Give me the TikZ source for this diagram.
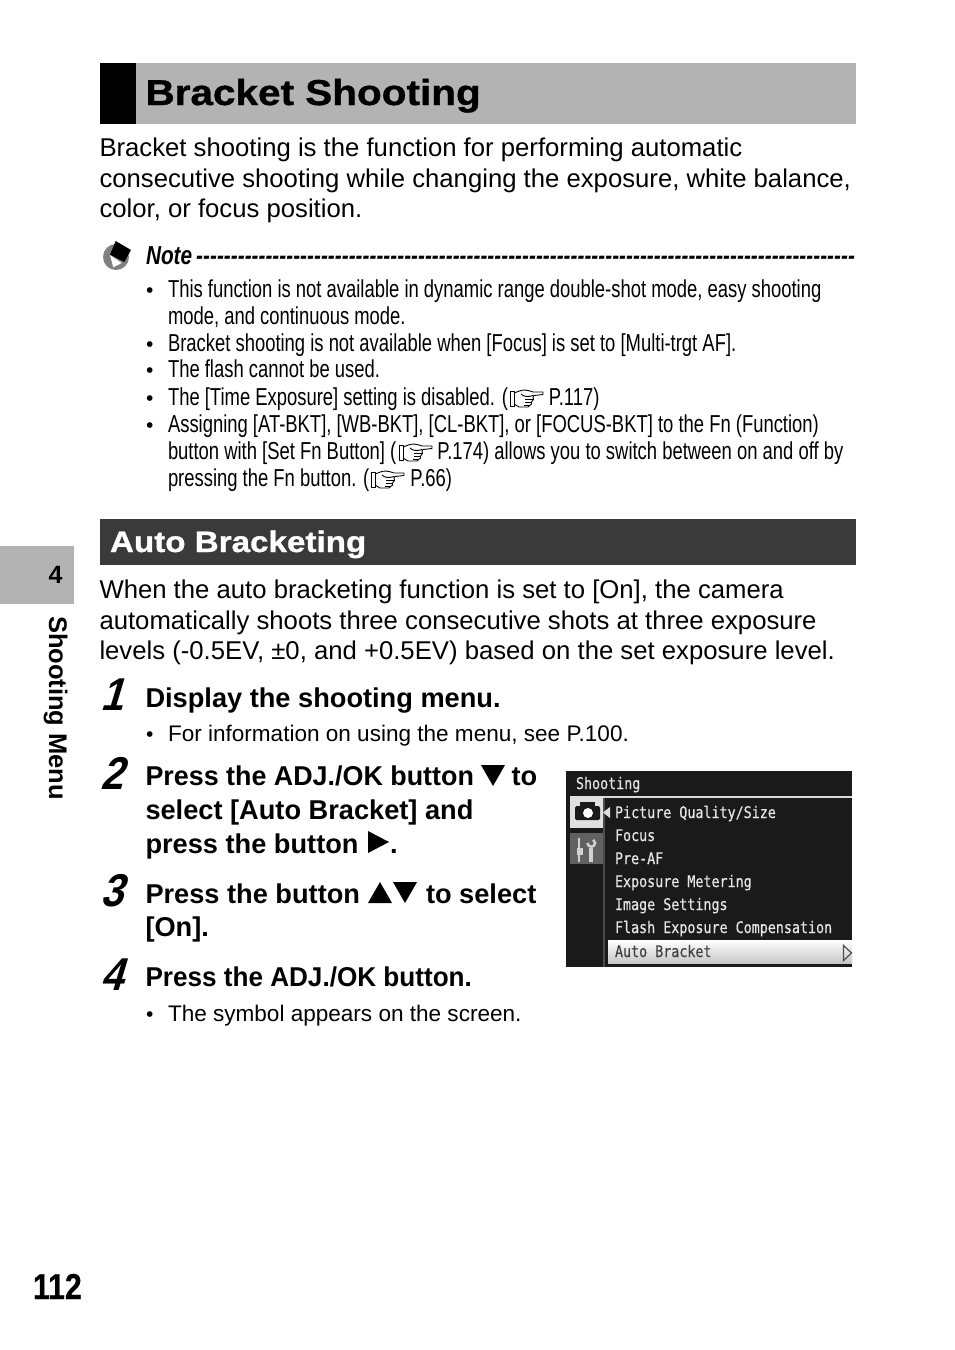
\documentclass[tikz,border=0pt]{standalone}
\usepackage{fontspec}
\setmainfont{Liberation Sans}
\newfontfamily\titlefont[FakeStretch=1.125,FakeBold=1]{Liberation Sans Bold}
\newfontfamily\notefont[FakeStretch=0.752]{Liberation Sans}
\newfontfamily\noteboldfont[FakeStretch=0.8]{Liberation Sans Bold Italic}
\newfontfamily\numfont[FakeStretch=0.84,FakeBold=0.6]{Liberation Sans Bold}
\newfontfamily\stepfont[FakeStretch=0.88,FakeSlant=0.3]{Liberation Sans Bold}
\newfontfamily\lcdfont[FakeStretch=0.835,FakeBold=0.4]{DejaVu Sans Mono}
\usepackage{xcolor}
\definecolor{bandgray}{HTML}{B3B3B3}
\definecolor{banddark}{HTML}{3A3A3A}
\definecolor{lcdblack}{HTML}{1A1A1A}
\definecolor{lcdtext}{HTML}{E6E6E6}
\newcommand{\tridn}[2]{
\fill (#1,#2)--(#1+24,#2)--(#1+12,#2+21)--cycle; }
\newcommand{\triup}[2]{
\fill (#1,#2+21)--(#1+24,#2+21)--(#1+12,#2)--cycle; }
\newcommand{\trirt}[2]{
\fill (#1,#2)--(#1+21,#2+11)--(#1,#2+22)--cycle; }
\newcommand{\handsign}[2]{
\begin{scope}[shift={(#1,#2)}, line width=0.9, line join=round]
\draw (0,1)--(4,1)--(4,16)--(0,16)--cycle;
\draw (4,3) .. controls (8,2) and (10,0) .. (15,0)--(20,1)--(23,2)--(33,2)--(33,4.5)--(24,5.5)--(23,7)--(23.5,9.5)--(21.5,12)--(21.5,14)--(18,17)--(9,17)--(4,14);
\draw (11,4) .. controls (14,7) and (18,7) .. (23,5.5);
\draw (15,9.5)--(23,9.5);
\draw (15,12.5)--(21.5,12.5);
\draw (14,15)--(19,15);
\end{scope}
}
\tikzset{
  lineof/.style={anchor=base west, inner sep=0pt, outer sep=0pt},
  bodyline/.style={lineof, font=\fontsize{25.7}{25.7}\selectfont},
  noteline/.style={lineof, font=\notefont\fontsize{24.5}{24.5}\selectfont},
  notedot/.style={lineof, font=\fontsize{21}{21}\selectfont},
  stepline/.style={lineof, font=\bfseries\fontsize{27.2}{27.2}\selectfont},
  subline/.style={lineof, font=\fontsize{22.55}{22.55}\selectfont},
  stepnum/.style={lineof, font=\stepfont\fontsize{46}{46}\selectfont},
  lcdline/.style={lineof, text=lcdtext, font=\lcdfont\fontsize{16}{16}\selectfont},
  iconline/.style={black!18!white},
}
\begin{document}
\begin{tikzpicture}[x=1pt,y=-1pt]
\useasboundingbox (0,0) rectangle (954,1350);

% title band
\fill[bandgray] (100,63) rectangle (856,124);
\fill[black] (100,63) rectangle (136,124);
\node[lineof, font=\titlefont\fontsize{36}{36}\selectfont] (title) at (145.5,105) {Bracket Shooting};

\node[bodyline] (introa) at (99.5,156) {Bracket shooting is the function for performing automatic};
\node[bodyline] (introb) at (99.5,187) {consecutive shooting while changing the exposure, white balance,};
\node[bodyline] (introc) at (99.5,217) {color, or focus position.};

% note icon
\fill[black!50!white] (116,257) circle (13);
\fill[black] (115.7,241)--(131,250)--(124.3,262)--(110,254.7)--cycle;
\fill[white] (110,255)--(121.7,263)--(113.3,267.3)--cycle;

\node[lineof, font=\noteboldfont\fontsize{26}{26}\selectfont] (note) at (146,264)
  {\hbox to 709pt{Note\hspace{4pt}\xleaders\hbox{-}\hfill}};

\foreach \y/\nm in {297/a,351/b,377/c,405/d,432/e}
  \node[notedot] (dot\nm) at (146,\y) {•};

\node[noteline] (notea) at (168,297) {This function is not available in dynamic range double-shot mode, easy shooting};
\node[noteline] (noteb) at (168,324) {mode, and continuous mode.};
\node[noteline] (notec) at (168,351) {Bracket shooting is not available when [Focus] is set to [Multi-trgt AF].};
\node[noteline] (noted) at (168,377) {The flash cannot be used.};
\node[noteline] (notee) at (168,405) {The [Time Exposure] setting is disabled. (\hspace{41pt}P.117)};
\node[noteline] (notef) at (168,432) {Assigning [AT-BKT], [WB-BKT], [CL-BKT], or [FOCUS-BKT] to the Fn (Function)};
\node[noteline] (noteg) at (168,459) {button with [Set Fn Button] (\hspace{41pt}P.174) allows you to switch between on and off by};
\node[noteline] (noteh) at (168,486) {pressing the Fn button. (\hspace{41pt}P.66)};
\handsign{510}{390}
\handsign{399}{444}
\handsign{371}{471}

% second band
\fill[banddark] (100,519) rectangle (856,565);
\node[lineof, text=white, font=\titlefont\fontsize{29.5}{29.5}\selectfont] (autohead) at (110,552) {Auto Bracketing};

\node[bodyline] (autoa) at (99.5,598) {When the auto bracketing function is set to [On], the camera};
\node[bodyline] (autob) at (99.5,629) {automatically shoots three consecutive shots at three exposure};
\node[bodyline] (autoc) at (99.5,659) {levels (-0.5EV, ±0, and +0.5EV) based on the set exposure level.};

% steps
\node[stepnum] (numa) at (100,710) {1};
\node[stepline] (stepa) at (145.5,707) {Display the shooting menu.};
\node[notedot] (dotf) at (146,741) {•};
\node[subline] (suba) at (168,741) {For information on using the menu, see P.100.};

\node[stepnum] (numb) at (100,789) {2};
\node[stepline] (stepb) at (145.5,785) {\scalebox{0.988}[1]{Press the ADJ./OK button}};
\tridn{481}{765}
\node[stepline] (stepbto) at (511.5,785) {to};
\node[stepline] (stepc) at (145.5,819) {select [Auto Bracket] and};
\node[stepline] (stepd) at (145.5,853) {press the button};
\trirt{368}{831}
\node[stepline] (stepddot) at (390,853) {.};

\node[stepnum] (numc) at (100,906) {3};
\node[stepline] (stepe) at (145.5,903) {Press the button};
\triup{368}{882}
\tridn{393}{882}
\node[stepline] (stepeto) at (426,903) {to select};
\node[stepline] (stepf) at (145.5,936) {[On].};

\node[stepnum] (numd) at (100,990) {4};
\node[stepline] (stepg) at (145.5,986) {\scalebox{0.96}[1]{Press the ADJ./OK button.}};
\node[notedot] (dotg) at (146,1021) {•};
\node[subline] (subb) at (168,1021) {The symbol appears on the screen.};

% camera screen
\fill[lcdblack] (566,771) rectangle (852,967);
\fill[white!85!black] (601,796) rectangle (852,798);
\fill[white!88!black] (570,796) rectangle (603,828);
\fill[black!62!white] (570,833) rectangle (603,864);
\fill[black!70!white] (603,798) rectangle (604.5,967);
% camera tab
\fill[lcdblack, rounded corners=1.5] (575,806) rectangle (600,820);
\fill[lcdblack] (580,802) rectangle (595,806);
\fill[white] (588,813) circle (5);
\fill[white!88!black] (603,812.5)--(610,807)--(610,818)--cycle;
% setup tab
\fill[iconline] (577.8,838) rectangle (580.2,862);
\fill[iconline] (577,848) rectangle (583,855);
\fill[iconline] (589,848) rectangle (593,862);
\draw[iconline, line width=2.5] (587.5,843) arc (180:-60:3.8);

\node[lcdline] (scrhead) at (576,789) {Shooting};
\node[lcdline] (menua) at (615,818) {Picture Quality/Size};
\node[lcdline] (menub) at (615,841) {Focus};
\node[lcdline] (menuc) at (615,864) {Pre-AF};
\node[lcdline] (menud) at (615,887) {Exposure Metering};
\node[lcdline] (menue) at (615,910) {Image Settings};
\node[lcdline] (menuf) at (615,933) {Flash Exposure Compensation};
\shade[top color=white, bottom color=black!22!white] (608,940) rectangle (852,963);
\node[lcdline, text=black!75!white] (menug) at (615,957) {Auto Bracket};
\draw[black!70!white, line width=1.2] (843.5,945.5)--(851.5,953)--(843.5,960.5)--cycle;

% side tab
\fill[bandgray] (0,546) rectangle (74,604);
\node[lineof, anchor=center, font=\bfseries\fontsize{25}{25}\selectfont] (chapter) at (55.5,575) {4};
\node[lineof, rotate=-90, font=\bfseries\fontsize{25.5}{25.5}\selectfont] (chaptitle) at (49,616) {Shooting Menu};

\node[lineof, font=\numfont\fontsize{36}{36}\selectfont] (pageno) at (33,1299) {112};

\end{tikzpicture}
\end{document}
